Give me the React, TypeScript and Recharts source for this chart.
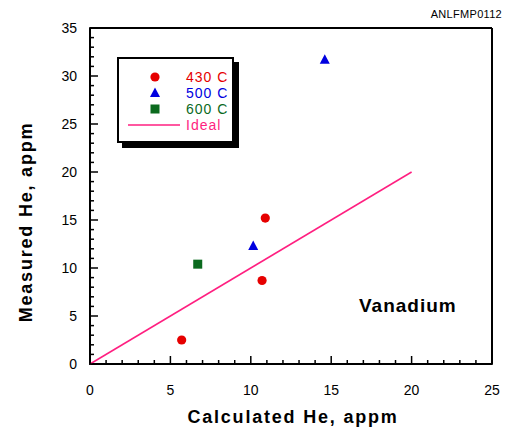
import { Scatter, ScatterChart, XAxis, YAxis } from 'recharts'

const xTicks = [0, 1, 2, 3, 4, 5, 6, 7, 8, 9, 10, 11, 12, 13, 14, 15, 16, 17, 18, 19, 20, 21, 22, 23, 24, 25]
const yTicks = [
  0, 1, 2, 3, 4, 5, 6, 7, 8, 9, 10, 11, 12, 13, 14, 15, 16, 17, 18, 19, 20, 21, 22, 23, 24, 25, 26, 27, 28, 29, 30, 31,
  32, 33, 34, 35,
]

const points430 = [
  { x: 5.7, y: 2.5 },
  { x: 10.7, y: 8.7 },
  { x: 10.9, y: 15.2 },
]
const points500 = [
  { x: 10.15, y: 12.3 },
  { x: 14.6, y: 31.7 },
]
const points600 = [{ x: 6.7, y: 10.4 }]
const idealLine = [
  { x: 0, y: 0 },
  { x: 20, y: 20 },
]

const RED = '#e60000'
const BLUE = '#0000e0'
const GREEN = '#0b6a1e'
const PINK = '#ff1f80'

const legendItems = [
  { label: '430 C', color: RED, kind: 'circle' },
  { label: '500 C', color: BLUE, kind: 'triangle' },
  { label: '600 C', color: GREEN, kind: 'square' },
  { label: 'Ideal', color: PINK, kind: 'line' },
]

function Marker({ kind, cx, cy, color }: { kind: string; cx: number; cy: number; color: string }) {
  if (kind === 'circle') return <circle cx={cx} cy={cy} r={4.6} fill={color} />
  if (kind === 'triangle')
    return <polygon points={`${cx},${cy - 5.5} ${cx - 5},${cy + 4} ${cx + 5},${cy + 4}`} fill={color} />
  if (kind === 'square') return <rect x={cx - 4.5} y={cy - 4.5} width={9} height={9} fill={color} />
  return null
}

const shapeOf = (kind: string, color: string) => (props: any) => (
  <Marker kind={kind} cx={props.cx} cy={props.cy} color={color} />
)

const isMajor = (v: number) => v % 5 === 0
const tickLen = (v: number) => (isMajor(v) ? 8 : 4)

// axes use tickSize 1, so the tick text position sits 1px outside the frame
const bottomTick = (p: any) => {
  const v = Number(p.payload.value)
  const edge = p.y - 1
  return (
    <g>
      <line x1={p.x} y1={edge} x2={p.x} y2={edge - tickLen(v)} stroke="#000" strokeWidth={1.5} />
      {isMajor(v) && (
        <text x={p.x} y={edge + 31} textAnchor="middle" fontSize={14} fill="#000">
          {v}
        </text>
      )}
    </g>
  )
}

const topTick = (p: any) => {
  const v = Number(p.payload.value)
  const edge = p.y + 1
  return <line x1={p.x} y1={edge} x2={p.x} y2={edge + tickLen(v)} stroke="#000" strokeWidth={1.5} />
}

const leftTick = (p: any) => {
  const v = Number(p.payload.value)
  const edge = p.x + 1
  return (
    <g>
      <line x1={edge} y1={p.y} x2={edge + tickLen(v)} y2={p.y} stroke="#000" strokeWidth={1.5} />
      {isMajor(v) && (
        <text x={edge - 13} y={p.y + 5} textAnchor="end" fontSize={14} fill="#000">
          {v}
        </text>
      )}
    </g>
  )
}

const rightTick = (p: any) => {
  const v = Number(p.payload.value)
  const edge = p.x - 1
  return <line x1={edge} y1={p.y} x2={edge - tickLen(v)} y2={p.y} stroke="#000" strokeWidth={1.5} />
}

const frame = { stroke: '#000', strokeWidth: 2 }
const stub = { stroke: '#000', strokeWidth: 1.5 }

function Legend() {
  return (
    <div style={{ position: 'absolute', left: 117, top: 57 }}>
      <div style={{ position: 'absolute', left: 5, top: 5, width: 117, height: 86, background: '#000' }} />
      <div
        style={{
          position: 'absolute',
          left: 0,
          top: 0,
          width: 113,
          height: 82,
          background: '#fff',
          border: '2px solid #000',
        }}
      />
      {legendItems.map((item, i) => (
        <div key={item.label} style={{ position: 'absolute', left: 0, top: 12 + i * 16, height: 16, width: 140 }}>
          <svg width={64} height={16} style={{ position: 'absolute', left: 8, top: 0 }}>
            {item.kind === 'line' ? (
              <line x1={3} y1={8} x2={55} y2={8} stroke={item.color} strokeWidth={1.5} />
            ) : (
              <Marker kind={item.kind} cx={30} cy={8} color={item.color} />
            )}
          </svg>
          <span
            style={{
              position: 'absolute',
              left: 69,
              top: -1,
              fontSize: 14,
              letterSpacing: 1,
              lineHeight: '18px',
              color: item.color,
              whiteSpace: 'nowrap',
            }}
          >
            {item.label}
          </span>
        </div>
      ))}
    </div>
  )
}

const titleStyle = { fontSize: 18, fontWeight: 'bold' as const, letterSpacing: 1.8 }

export default function App() {
  return (
    <div
      style={{
        position: 'absolute',
        left: 0,
        top: 0,
        width: 506,
        height: 429,
        background: '#fff',
        fontFamily: 'Arial, "Liberation Sans", sans-serif',
      }}
    >
      <ScatterChart width={506} height={429} margin={{ top: 8, right: 4, bottom: 35, left: 50 }}>
        <XAxis
          type="number"
          dataKey="x"
          domain={[0, 25]}
          ticks={xTicks}
          interval={0}
          height={30}
          tickSize={1}
          tickMargin={0}
          tickLine={stub}
          axisLine={frame}
          tick={bottomTick}
        />
        <XAxis
          xAxisId="top"
          orientation="top"
          type="number"
          dataKey="x"
          domain={[0, 25]}
          ticks={xTicks}
          interval={0}
          height={20}
          tickSize={1}
          tickMargin={0}
          tickLine={stub}
          axisLine={frame}
          tick={topTick}
        />
        <YAxis
          type="number"
          dataKey="y"
          domain={[0, 35]}
          ticks={yTicks}
          interval={0}
          width={40}
          tickSize={1}
          tickMargin={0}
          tickLine={stub}
          axisLine={frame}
          tick={leftTick}
        />
        <YAxis
          yAxisId="right"
          orientation="right"
          type="number"
          dataKey="y"
          domain={[0, 35]}
          ticks={yTicks}
          interval={0}
          width={10}
          tickSize={1}
          tickMargin={0}
          tickLine={stub}
          axisLine={frame}
          tick={rightTick}
        />
        <Scatter
          data={idealLine}
          line={{ stroke: PINK, strokeWidth: 1.5 }}
          shape={() => <g />}
          isAnimationActive={false}
        />
        <Scatter data={points430} shape={shapeOf('circle', RED)} isAnimationActive={false} />
        <Scatter data={points500} shape={shapeOf('triangle', BLUE)} isAnimationActive={false} />
        <Scatter data={points600} shape={shapeOf('square', GREEN)} isAnimationActive={false} />
      </ScatterChart>
      <Legend />
      <svg width={506} height={429} style={{ position: 'absolute', left: 0, top: 0, pointerEvents: 'none' }}>
        <text x={502} y={18} textAnchor="end" fontSize={11} letterSpacing={0.3} fill="#000">
          ANLFMP0112
        </text>
        <text x={359} y={312} fontSize={19} fontWeight="bold" letterSpacing={1} fill="#000">
          Vanadium
        </text>
        <text x={293} y={423} textAnchor="middle" fill="#000" style={titleStyle}>
          Calculated He, appm
        </text>
        <text x={32} y={222} transform="rotate(-90 32 222)" textAnchor="middle" fill="#000" style={titleStyle}>
          Measured He, appm
        </text>
      </svg>
    </div>
  )
}
